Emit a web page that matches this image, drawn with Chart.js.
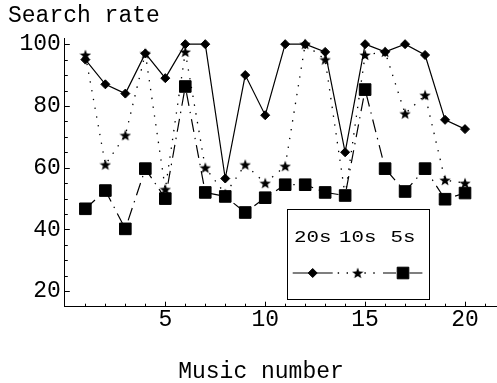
<!DOCTYPE html>
<html>
<head>
<meta charset="utf-8">
<script src="https://cdn.jsdelivr.net/npm/chart.js@4"></script>
<style>
  html, body { margin: 0; padding: 0; background: #fff; }
</style>
</head>
<body>
<canvas id="c" width="497" height="383"></canvas>
<script>
// --- data ---
const musicNumbers = [1, 2, 3, 4, 5, 6, 7, 8, 9, 10, 11, 12, 13, 14, 15, 16, 17, 18, 19, 20];
const rate20s = [95, 87, 84, 97, 89, 100, 100, 56.5, 90, 77, 100, 100, 97.5, 65, 100, 97.5, 100, 96.5, 75.5, 72.5];
const rate10s = [96.5, 61, 70.5, 97, 53, 97.5, 60, 51.5, 61, 55, 60.5, 100, 95, 51, 96.5, 97.5, 77.5, 83.5, 56, 55];
const rate5s = [46.7, 52.6, 40.2, 59.7, 50, 86.3, 52, 50.7, 45.5, 50.3, 54.5, 54.5, 52, 51, 85.3, 59.7, 52.3, 59.7, 49.8, 51.8];
const seriesNames = ["20s", "10s", "5s"];
const xTicks = [5, 10, 15, 20];
const yTicks = [20, 40, 60, 80, 100];
const xTitle = "Music number";
const yTitle = "Search rate";

const FONT = '"Liberation Mono", "DejaVu Sans Mono", monospace';

// --- filled five point star as a point style ---
function makeStar(size) {
  const cv = document.createElement("canvas");
  cv.width = size; cv.height = size;
  const c = cv.getContext("2d");
  const cx = size / 2, cy = size / 2 + 0.5;
  const ro = size / 2, ri = ro * 0.42;
  c.beginPath();
  for (let i = 0; i < 10; i++) {
    const r = i % 2 ? ri : ro;
    const a = -Math.PI / 2 + i * Math.PI / 5;
    c.lineTo(cx + r * Math.cos(a), cy + r * Math.sin(a));
  }
  c.closePath();
  c.fillStyle = "#000";
  c.fill();
  return cv;
}
const starImg = makeStar(12);

const toPoints = (arr) => musicNumbers.map((x, i) => ({ x: x, y: arr[i] }));

// --- extra drawing: inward ticks, titles, legend box ---
const decor = {
  id: "decor",
  afterDraw(chart) {
    const ctx = chart.ctx;
    const area = chart.chartArea;
    const xs = chart.scales.x, ys = chart.scales.y;
    ctx.save();
    ctx.strokeStyle = "#000";
    ctx.lineWidth = 1;
    ctx.beginPath();
    for (let v = 1; v <= 21; v++) {
      const px = Math.round(xs.getPixelForValue(v)) + 0.5;
      const len = xTicks.includes(v) ? 5 : 3;
      ctx.moveTo(px, area.bottom);
      ctx.lineTo(px, area.bottom - len);
    }
    for (let v = 20; v <= 100; v += 5) {
      const py = Math.round(ys.getPixelForValue(v)) + 0.5;
      const len = yTicks.includes(v) ? 5 : 3;
      ctx.moveTo(area.left, py);
      ctx.lineTo(area.left + len, py);
    }
    ctx.stroke();

    ctx.fillStyle = "#000";
    ctx.font = "23px " + FONT;
    ctx.textBaseline = "middle";
    ctx.textAlign = "left";
    ctx.fillText(yTitle, 8, 16);
    ctx.textAlign = "center";
    ctx.fillText(xTitle, 261, 372);

    // legend
    ctx.strokeRect(287.5, 209.5, 142, 90);
    const centers = [312.7, 357.7, 403];
    [0, 1, 2].forEach((i) => {
      const ds = chart.data.datasets[i];
      const cx = centers[i];
      ctx.save();
      ctx.translate(cx, 238);
      ctx.scale(1.3, 1);
      ctx.font = "16px " + FONT;
      ctx.textAlign = "center";
      ctx.textBaseline = "middle";
      ctx.fillText(seriesNames[i], 0, 0);
      ctx.restore();

      ctx.save();
      ctx.lineWidth = ds.borderWidth;
      ctx.setLineDash(ds.borderDash || []);
      ctx.beginPath();
      ctx.moveTo(cx - 20, 273);
      ctx.lineTo(cx + 20, 273);
      ctx.stroke();
      ctx.restore();
      Chart.helpers.drawPoint(ctx, {
        pointStyle: ds.pointStyle,
        radius: ds.pointRadius,
        borderWidth: ds.pointBorderWidth,
        rotation: 0
      }, cx, 273);
    });
    ctx.restore();
  }
};

new Chart(document.getElementById("c"), {
  type: "line",
  data: {
    datasets: [
      {
        label: seriesNames[0],
        data: toPoints(rate20s),
        borderColor: "#000",
        backgroundColor: "#000",
        borderWidth: 1.2,
        pointStyle: "rectRot",
        pointRadius: 4.5,
        pointBorderWidth: 1,
        pointBackgroundColor: "#000",
        pointBorderColor: "#000",
        order: 0
      },
      {
        label: seriesNames[1],
        data: toPoints(rate10s),
        borderColor: "#000",
        backgroundColor: "#000",
        borderWidth: 1.3,
        borderDash: [1.4, 7.5],
        pointStyle: starImg,
        pointRadius: 5,
        pointBorderWidth: 0,
        order: 2
      },
      {
        label: seriesNames[2],
        data: toPoints(rate5s),
        borderColor: "#000",
        backgroundColor: "#000",
        borderWidth: 1.2,
        borderDash: [13, 6, 1.4, 6],
        pointStyle: "rect",
        pointRadius: 8.2,
        pointBorderWidth: 1,
        pointBackgroundColor: "#000",
        pointBorderColor: "#000",
        order: 1
      }
    ]
  },
  options: {
    responsive: false,
    devicePixelRatio: 1,
    animation: false,
    layout: { autoPadding: false, padding: { top: 38, left: 0, right: 0, bottom: 0 } },
    plugins: { legend: { display: false }, tooltip: { enabled: false } },
    elements: { line: { tension: 0, fill: false } },
    scales: {
      x: {
        type: "linear",
        min: -0.03,
        max: 21.6,
        afterBuildTicks: (s) => { s.ticks = xTicks.map((v) => ({ value: v })); },
        afterFit: (s) => { s.height = 76.3; s.paddingLeft = 0; s.paddingRight = 0; },
        grid: { display: true, drawOnChartArea: false, drawTicks: false },
        border: { display: true, color: "#000", width: 1 },
        ticks: { color: "#000", padding: -1, maxRotation: 0, font: { family: FONT, size: 23 } }
      },
      y: {
        type: "linear",
        min: 15,
        max: 102,
        afterBuildTicks: (s) => { s.ticks = yTicks.map((v) => ({ value: v })); },
        afterFit: (s) => { s.width = 64.8; s.paddingTop = 0; s.paddingBottom = 0; },
        grid: { display: true, drawOnChartArea: false, drawTicks: false },
        border: { display: true, color: "#000", width: 1 },
        ticks: { color: "#000", padding: 4, font: { family: FONT, size: 23 } }
      }
    }
  },
  plugins: [decor]
});
</script>
</body>
</html>
